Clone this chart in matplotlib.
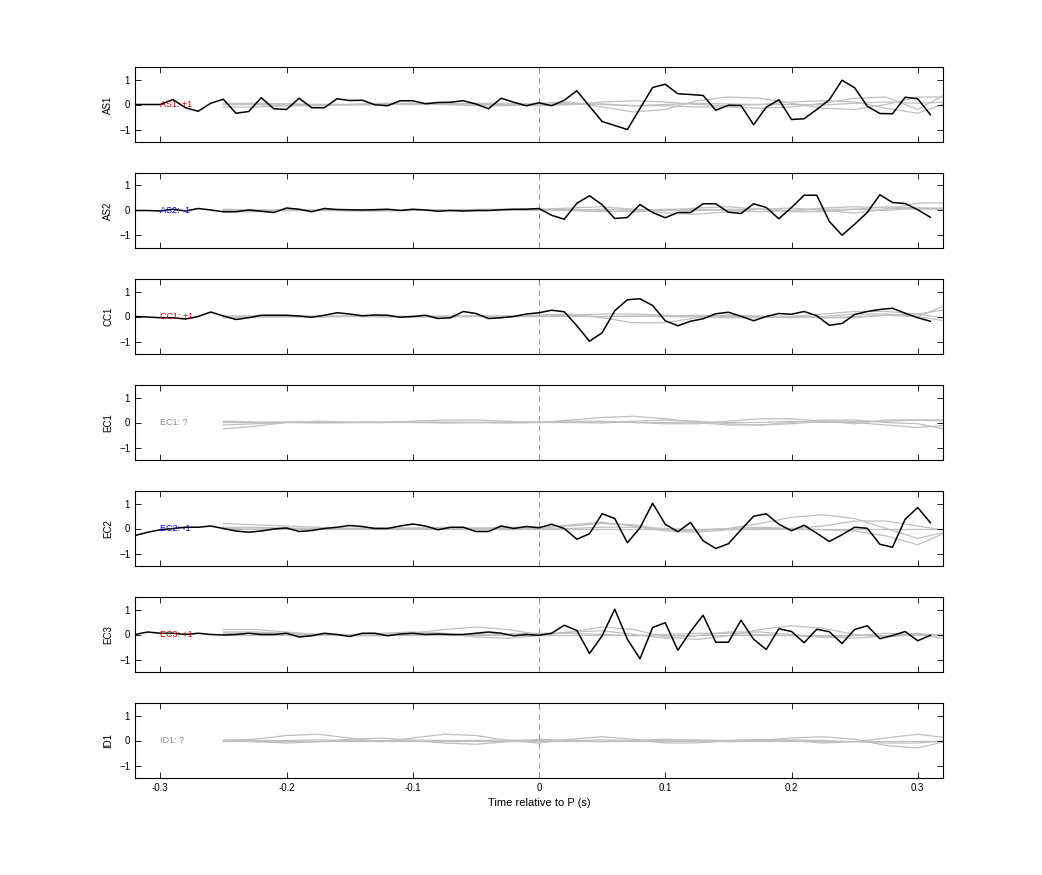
import numpy as np
import matplotlib
matplotlib.use("Agg")
import matplotlib.pyplot as plt

plt.rcParams['font.family'] = ['Liberation Sans', 'DejaVu Sans']

stations = ["AS1", "AS2", "CC1", "EC1", "EC2", "EC3", "ID1"]
labels = ["AS1: +1", "AS2: -1", "CC1: +1", "EC1: ?", "EC2: -1", "EC3: +1", "ID1: ?"]
label_colors = ["#cc0000", "#0000cc", "#cc0000", "#888888", "#0000cc", "#cc0000", "#888888"]

t_black = np.round(np.arange(-0.32, 0.315, 0.01), 2)  # 64 samples
t_gray = np.round(np.arange(-0.25, 0.33, 0.025), 3)   # 24 samples

black = {
 "AS1": [0, 0, 0, 0.2, -0.13, -0.27, 0.05, 0.21, -0.35, -0.28, 0.27, -0.17, -0.2, 0.25, -0.13, -0.13,
         0.23, 0.16, 0.17, -0.01, -0.05, 0.15, 0.15, 0.03, 0.08, 0.09, 0.15, 0.02, -0.17, 0.25, 0.09, -0.05,
         0.07, -0.05, 0.17, 0.55, -0.07, -0.68, -0.84, -1.0, -0.16, 0.68, 0.81, 0.43, 0.40, 0.36, -0.23, -0.03,
         -0.04, -0.81, -0.11, 0.19, -0.60, -0.57, -0.2, 0.19, 0.97, 0.67, -0.07, -0.36, -0.37, 0.29, 0.23, -0.41],
 "AS2": [0, 0, -0.02, 0.05, -0.02, 0.08, 0.02, -0.05, -0.05, 0.02, -0.03, -0.08, 0.1, 0.05, -0.05, 0.08,
         0.04, 0.03, 0.02, 0.03, 0.05, 0.0, 0.05, 0.02, -0.03, 0.0, -0.02, 0.0, 0.0, 0.03, 0.05, 0.05,
         0.08, -0.19, -0.35, 0.29, 0.59, 0.23, -0.32, -0.28, 0.24, -0.08, -0.29, -0.08, -0.08, 0.27, 0.27, -0.07,
         -0.12, 0.27, 0.12, -0.33, 0.12, 0.61, 0.61, -0.44, -0.99, -0.55, -0.08, 0.63, 0.32, 0.28, 0.03, -0.27],
 "CC1": [0.0, -0.02, -0.05, -0.05, -0.1, 0.0, 0.18, 0.02, -0.12, -0.05, 0.05, 0.05, 0.05, 0.02, -0.03, 0.05,
         0.15, 0.1, 0.03, 0.06, 0.05, -0.03, 0.0, 0.05, -0.08, -0.05, 0.2, 0.12, -0.08, -0.05, 0.0, 0.1,
         0.15, 0.25, 0.19, -0.37, -0.99, -0.65, 0.23, 0.67, 0.71, 0.44, -0.17, -0.37, -0.19, -0.09, 0.11, 0.17,
         0.01, -0.17, 0.0, 0.12, 0.09, 0.2, 0.03, -0.35, -0.28, 0.08, 0.2, 0.28, 0.33, 0.13, -0.05, -0.19],
 "EC1": None,
 "EC2": [-0.28, -0.15, -0.05, 0.0, 0.05, 0.05, 0.1, 0.0, -0.1, -0.15, -0.1, -0.02, 0.02, -0.12, -0.08, 0.0,
         0.05, 0.12, 0.08, 0.0, 0.0, 0.1, 0.18, 0.1, -0.05, 0.05, 0.05, -0.12, -0.12, 0.1, 0.0, 0.08,
         0.03, 0.17, 0.0, -0.43, -0.21, 0.59, 0.4, -0.57, 0.03, 1.01, 0.17, -0.13, 0.24, -0.49, -0.8, -0.61,
         -0.05, 0.49, 0.59, 0.17, -0.09, 0.13, -0.19, -0.52, -0.25, 0.05, 0.01, -0.63, -0.75, 0.37, 0.84, 0.23],
 "EC3": [0.0, 0.1, 0.05, 0.05, 0.0, 0.05, 0.0, -0.02, 0.0, 0.05, 0.0, 0.0, 0.05, -0.1, -0.05, 0.05,
         0.0, -0.08, 0.05, 0.05, -0.05, 0.02, 0.05, 0.0, 0.02, 0.0, 0.0, 0.05, 0.1, 0.05, -0.05, 0.0,
         -0.03, 0.05, 0.37, 0.16, -0.76, -0.05, 1.01, -0.19, -0.97, 0.28, 0.47, -0.63, 0.12, 0.77, -0.31, -0.31,
         0.57, -0.19, -0.6, 0.23, 0.12, -0.33, 0.21, 0.11, -0.36, 0.2, 0.35, -0.17, -0.04, 0.12, -0.25, -0.03],
 "ID1": None,
}

gray = {
 "AS1": [[0.0, 0.0, -0.05, -0.05, 0.0, 0.05, 0.05, 0.0, -0.05, -0.05, 0.05, 0.1, -0.1, -0.3, -0.2, 0.15, 0.3, 0.25, 0.05, -0.15, -0.2, 0.0, 0.3, 0.3],
         [-0.1, -0.1, -0.05, 0.0, 0.0, 0.0, 0.0, 0.02, 0.05, 0.05, 0.0, 0.0, 0.02, -0.05, -0.05, -0.1, -0.1, -0.15, -0.1, 0.05, 0.25, 0.3, -0.2, 0.5],
         [0.05, 0.05, 0.02, 0.0, -0.02, 0.0, 0.05, 0.05, 0.02, -0.02, -0.05, 0.0, 0.1, 0.15, 0.1, 0.0, -0.05, 0.0, 0.1, 0.15, 0.1, -0.15, -0.35, 0.1],
         [0.0, 0.02, 0.02, 0.0, 0.0, 0.02, 0.0, 0.0, 0.02, 0.0, 0.0, 0.05, 0.0, -0.05, 0.0, 0.05, 0.02, 0.0, 0.0, -0.02, 0.05, 0.1, 0.05, 0.1]],
 "AS2": [[0.05, 0.03, 0.0, 0.0, 0.03, 0.05, 0.02, 0.0, 0.0, 0.03, 0.05, 0.1, 0.15, 0.05, -0.1, -0.15, -0.05, 0.05, 0.1, 0.0, -0.1, 0.05, 0.3, 0.3],
         [-0.05, -0.05, 0.0, 0.02, 0.0, -0.02, 0.0, 0.02, 0.05, 0.05, 0.05, 0.0, -0.05, 0.0, 0.05, 0.05, 0.0, -0.05, 0.0, 0.1, 0.15, 0.1, 0.05, 0.1],
         [0.0, 0.02, 0.03, 0.0, -0.02, 0.0, 0.03, 0.02, 0.0, 0.0, 0.02, 0.05, 0.0, -0.05, 0.0, 0.1, 0.15, 0.05, -0.05, -0.05, 0.05, 0.15, 0.1, 0.0],
         [0.02, 0.0, 0.0, 0.02, 0.0, 0.0, 0.02, 0.0, 0.0, 0.02, 0.0, 0.0, 0.05, 0.05, 0.0, 0.0, 0.05, 0.05, 0.0, 0.05, 0.05, 0.0, 0.1, 0.1]],
 "CC1": [[0.0, 0.0, -0.02, 0.0, 0.02, 0.0, -0.02, 0.0, 0.02, 0.0, 0.05, 0.1, -0.05, -0.25, -0.25, -0.05, 0.05, 0.0, -0.05, 0.0, 0.1, 0.1, 0.0, 0.5],
         [0.0, 0.02, 0.0, -0.02, 0.0, 0.02, 0.0, -0.02, 0.0, 0.02, 0.05, 0.05, 0.1, 0.1, 0.05, 0.0, -0.05, -0.05, 0.0, 0.1, 0.2, 0.2, 0.1, 0.3],
         [-0.05, -0.03, 0.0, 0.02, 0.0, -0.02, 0.0, 0.02, 0.0, 0.0, 0.0, 0.02, 0.0, 0.0, 0.02, 0.05, 0.05, 0.0, -0.02, -0.05, 0.0, 0.05, 0.0, -0.2],
         [0.02, 0.0, 0.0, 0.0, 0.02, 0.0, 0.0, 0.0, 0.02, 0.0, 0.0, 0.0, 0.0, 0.02, 0.0, -0.02, 0.0, 0.02, 0.0, -0.05, -0.05, 0.05, 0.1, -0.1]],
 "EC1": [[-0.1, -0.05, 0.0, 0.02, 0.0, 0.0, 0.05, 0.1, 0.1, 0.05, 0.0, 0.1, 0.2, 0.25, 0.15, 0.0, -0.1, -0.1, 0.0, 0.1, 0.1, 0.0, -0.05, -0.3],
         [-0.25, -0.15, 0.0, 0.05, 0.02, 0.0, 0.0, 0.02, 0.0, -0.02, 0.0, 0.05, 0.05, 0.0, -0.05, -0.05, 0.05, 0.15, 0.15, 0.05, -0.05, 0.1, 0.1, 0.05],
         [0.05, 0.02, 0.0, -0.02, 0.0, 0.02, 0.0, -0.02, 0.0, 0.0, 0.02, 0.0, -0.02, 0.05, 0.1, 0.05, -0.05, -0.1, -0.05, 0.05, 0.0, -0.1, -0.2, -0.1],
         [0.0, 0.0, 0.02, 0.0, 0.0, 0.0, 0.02, 0.0, 0.0, 0.02, 0.0, 0.0, 0.02, 0.0, 0.0, 0.02, 0.0, 0.0, 0.05, 0.0, 0.05, 0.05, 0.1, 0.1]],
 "EC2": [[0.05, 0.05, 0.02, 0.0, 0.0, 0.02, 0.0, -0.02, 0.0, 0.05, 0.05, 0.1, 0.2, 0.15, -0.05, -0.1, 0.0, 0.2, 0.45, 0.55, 0.4, 0.0, -0.4, -0.1],
         [0.2, 0.15, 0.1, 0.05, 0.0, 0.0, 0.02, 0.05, 0.0, -0.05, 0.0, 0.15, 0.25, 0.1, -0.1, -0.15, -0.05, 0.0, 0.0, 0.1, 0.3, 0.3, 0.1, -0.1],
         [0.0, 0.02, 0.0, -0.02, 0.0, 0.02, 0.0, 0.0, 0.02, 0.0, -0.02, 0.0, 0.05, 0.05, 0.0, -0.05, 0.0, 0.05, 0.0, -0.05, -0.1, -0.3, -0.65, -0.1],
         [0.0, 0.0, 0.0, 0.0, 0.0, 0.0, 0.0, 0.0, 0.0, 0.0, 0.0, 0.0, 0.0, 0.0, 0.0, 0.0, 0.0, 0.0, 0.0, 0.0, 0.0, 0.0, 0.0, 0.0]],
 "EC3": [[0.2, 0.2, 0.1, 0.0, -0.05, -0.05, 0.05, 0.2, 0.3, 0.2, 0.0, 0.1, 0.3, 0.2, -0.1, -0.2, -0.05, 0.2, 0.35, 0.25, 0.0, -0.1, 0.0, 0.0],
         [0.1, 0.1, 0.05, 0.0, 0.0, 0.05, 0.1, 0.05, -0.1, -0.15, -0.05, 0.1, 0.15, 0.0, -0.15, -0.05, 0.1, 0.1, 0.0, -0.1, -0.05, 0.05, 0.0, -0.2],
         [0.05, 0.05, 0.02, 0.0, -0.02, 0.0, 0.02, 0.0, 0.0, 0.02, 0.05, 0.05, 0.0, -0.05, 0.0, 0.05, 0.05, 0.0, -0.05, -0.1, -0.15, -0.05, 0.05, -0.1],
         [0.0, 0.0, 0.0, 0.0, 0.0, 0.0, 0.0, 0.0, 0.0, 0.0, 0.0, 0.0, 0.0, 0.0, 0.0, 0.0, 0.0, 0.0, 0.0, 0.0, 0.0, 0.0, 0.0, 0.0]],
 "ID1": [[0.0, 0.05, 0.2, 0.25, 0.1, -0.05, 0.1, 0.25, 0.2, 0.0, -0.1, 0.05, 0.15, 0.05, -0.1, -0.1, 0.0, 0.05, 0.0, -0.1, -0.05, 0.1, 0.25, 0.1],
         [0.0, -0.05, -0.1, -0.05, 0.05, 0.1, 0.0, -0.1, -0.15, -0.05, 0.05, 0.0, -0.05, 0.0, 0.05, 0.0, -0.05, 0.0, 0.1, 0.15, 0.05, -0.2, -0.3, 0.0],
         [0.02, 0.0, 0.0, 0.02, 0.0, 0.0, 0.02, 0.0, 0.0, 0.02, 0.0, 0.0, 0.02, 0.0, 0.0, 0.02, 0.0, 0.0, 0.02, 0.0, -0.05, -0.1, -0.1, 0.0],
         [0.0, 0.0, 0.0, 0.0, 0.0, 0.0, 0.0, 0.0, 0.0, 0.0, 0.0, 0.0, 0.0, 0.0, 0.0, 0.0, 0.0, 0.0, 0.0, 0.0, 0.0, 0.0, 0.0, 0.0]],
}

W, H = 1042, 875
fig = plt.figure(figsize=(W / 100, H / 100), dpi=100)
left, width = 135 / W, 808 / W
ph = 75
for i, st in enumerate(stations):
    top = 67 + 106 * i
    ax = fig.add_axes([left, 1 - (top + ph) / H, width, ph / H])
    for g in gray[st]:
        ax.plot(t_gray, g, color="#c0c0c0", lw=0.9, zorder=1)
    if black[st] is not None:
        ax.plot(t_black, black[st], color="black", lw=1.1, zorder=3)
    ax.axvline(0, color="#d08080", lw=0.7, ls=(0, (6, 4)), zorder=2)
    ax.text(-0.3, 0, labels[i], color=label_colors[i], fontsize=6.5, va="center", ha="left", zorder=4)
    ax.set_xlim(-0.32, 0.32)
    ax.set_ylim(-1.5, 1.5)
    ax.set_yticks([-1, 0, 1])
    ax.set_xticks([-0.3, -0.2, -0.1, 0, 0.1, 0.2, 0.3])
    ax.tick_params(direction="in", length=4, width=0.6, labelsize=7, top=True, right=True)
    ax.set_ylabel(st, fontsize=7)
    for s in ax.spines.values():
        s.set_linewidth(0.8)
    if i < len(stations) - 1:
        ax.set_xticklabels([])
    else:
        ax.set_xticklabels(["-0.3", "-0.2", "-0.1", "0", "0.1", "0.2", "0.3"])
        ax.set_xlabel("Time relative to P (s)", fontsize=8)

fig.savefig("out.png", dpi=100)
